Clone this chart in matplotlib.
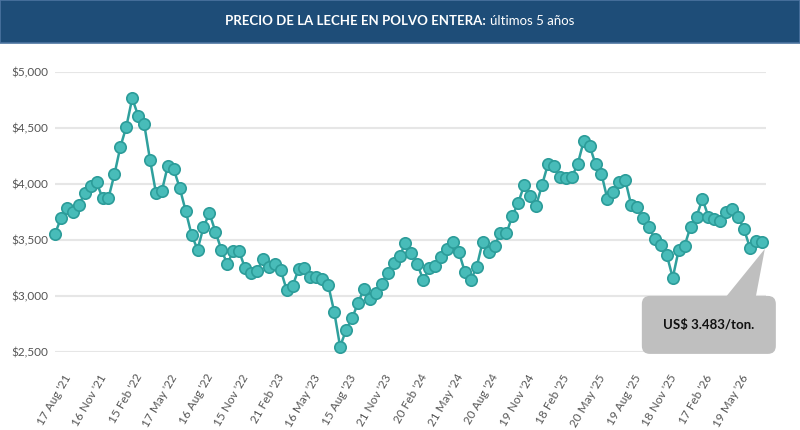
"""
Whole milk powder price over the last five years (GDT auctions).

One point per auction, teal line with round markers, a grey callout
pointing at the latest price and a dark blue title bar on top.
"""

import numpy as np
import matplotlib.pyplot as plt
from matplotlib.patches import Rectangle, FancyBboxPatch, Polygon
from matplotlib.transforms import ScaledTranslation, IdentityTransform

plt.rcParams['font.family'] = ['Lato', 'DejaVu Sans']

# one label every 6 auctions (3 months)
tick_labels = [
    "17 Aug '21", "16 Nov '21", "15 Feb '22", "17 May '22", "16 Aug '22",
    "15 Nov '22", "21 Feb '23", "16 May '23", "15 Aug '23", "21 Nov '23",
    "20 Feb '24", "21 May '24", "20 Aug '24", "19 Nov '24", "18 Feb '25",
    "20 May '25", "19 Aug '25", "18 Nov '25", "17 Feb '26", "19 May '26",
]

# USD per tonne
prices_2021_22 = [
    3554, 3695, 3785, 3750, 3810, 3920, 3985, 4015, 3875, 3875,
    4085, 4330, 4510, 4765, 4610, 4540, 4215, 3920, 3940, 4165,
    4130, 3965, 3760, 3545, 3415, 3615, 3740, 3575, 3415, 3285,
    3400, 3400,
]
prices_2023 = [
    3247, 3208, 3223, 3330, 3262, 3283, 3232, 3054, 3089, 3238,
    3247, 3173, 3173, 3149, 3098, 2860, 2548, 2696, 2800, 2935,
    3063, 2970, 3030, 3107, 3208, 3292, 3357, 3470,
]
prices_2024 = [
    3387, 3285, 3142, 3246, 3267, 3351, 3416, 3485, 3390, 3216,
    3142, 3261, 3485, 3396, 3449, 3560, 3560, 3715, 3834, 3993,
    3894, 3807, 3993, 4178, 4163, 4061, 4052, 4061, 4178,
]
prices_2025_26 = [
    4381, 4342, 4178, 4091, 3864, 3933, 4016, 4037, 3813, 3793,
    3700, 3613, 3509, 3455, 3366, 3163, 3410, 3449, 3619, 3709,
    3867, 3709, 3688, 3670, 3748, 3778, 3709, 3596, 3431, 3491,
    3483,
]
prices = prices_2021_22 + prices_2023 + prices_2024 + prices_2025_26

title_bold = "PRECIO DE LA LECHE EN POLVO ENTERA:"
title_rest = "últimos 5 años"
callout_text = "US$ 3.483/ton."

W, H = 800, 430


def main():
    fig = plt.figure(figsize=(W / 100, H / 100), dpi=100)
    fig.patch.set_facecolor('white')

    # plot area in pixels: x 55..766, y 72..352 (from top)
    ax = fig.add_axes([55 / W, 1 - 352 / H, 711 / W, 280 / H])
    x = np.arange(len(prices))
    ax.plot(x, prices, color='#2FA09D', lw=1.8, marker='o', ms=8.2,
            mfc='#48BCB9', mec='#2C9C99', mew=1.2, zorder=3, clip_on=False)

    ax.set_xlim(0, 119.7)
    ax.set_ylim(2500, 5000)
    ax.set_yticks(np.arange(2500, 5001, 500))
    ax.yaxis.set_major_formatter(lambda v, p: f'${v:,.0f}')
    ax.grid(axis='y', color='#e6e6e6', lw=1.5)
    ax.set_axisbelow(True)
    for s in ax.spines.values():
        s.set_visible(False)
    ax.tick_params(axis='y', length=0, pad=5, labelsize=8.5, labelcolor='#555555')
    ax.tick_params(axis='x', length=0, pad=0, labelsize=8.5, labelcolor='#555555')

    ax.set_xticks(x[::6])
    ax.set_xticklabels(tick_labels, rotation=60, ha='right', va='center',
                       rotation_mode='anchor')
    shift = ScaledTranslation(0.13, -0.23, fig.dpi_scale_trans)
    for lbl in ax.get_xticklabels():
        lbl.set_transform(lbl.get_transform() + shift)

    # callout pointing at the last auction
    px, py = ax.transData.transform((x[-1], prices[-1]))
    ident = IdentityTransform()
    box = FancyBboxPatch((px - 120, py - 112), 134, 58,
                         boxstyle='round,pad=0,rounding_size=8',
                         fc='#BFBFBF', ec='none', transform=ident, zorder=5)
    tip = Polygon([(px + 3, py - 7), (px - 40, py - 60), (px - 7, py - 60)],
                  closed=True, fc='#BFBFBF', ec='none', transform=ident, zorder=5)
    fig.add_artist(box)
    fig.add_artist(tip)
    fig.text(px - 53, py - 83, callout_text, transform=ident, ha='center',
             va='center', fontsize=9.5, fontweight='bold', color='#111111',
             zorder=6)

    # title bar
    fig.add_artist(Rectangle((0, 1 - 43 / H), 1, 43 / H, transform=fig.transFigure,
                             fc='#1E4D78', ec='#4C74A0', lw=1.2, zorder=4))
    r = fig.canvas.get_renderer()
    ty = 1 - 21 / H
    t1 = fig.text(0, ty, title_bold, fontsize=9.5, fontweight='bold',
                  color='white', va='center', zorder=5)
    t2 = fig.text(0, ty, title_rest, fontsize=9.5, color='white',
                  va='center', zorder=5)
    w1 = t1.get_window_extent(r).width
    w2 = t2.get_window_extent(r).width
    gap = 4
    x0 = (W - w1 - w2 - gap) / 2
    t1.set_x(x0 / W)
    t2.set_x((x0 + w1 + gap) / W)

    fig.savefig('out.png', dpi=100)
    plt.close(fig)


if __name__ == '__main__':
    main()
